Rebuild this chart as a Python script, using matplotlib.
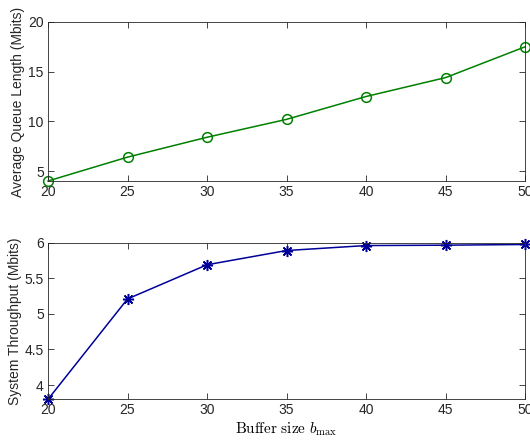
import matplotlib
matplotlib.use("Agg")
import matplotlib.pyplot as plt

# buffer sizes and measured values
buffer_size = [20, 25, 30, 35, 40, 45, 50]
queue_len = [4.0, 6.4, 8.4, 10.2, 12.5, 14.4, 17.5]
throughput = [3.8, 5.21, 5.69, 5.89, 5.96, 5.965, 5.975]

plt.rcParams['font.family'] = ['Liberation Sans', 'DejaVu Sans']
plt.rcParams['mathtext.fontset'] = 'cm'
plt.rcParams['font.size'] = 10

axcol = (0.15, 0.15, 0.15)

fig = plt.figure(figsize=(5.3, 4.45), dpi=100)
ax1 = fig.add_axes([0.0906, 0.5933, 0.9, 0.3573])
ax2 = fig.add_axes([0.0906, 0.1027, 0.9, 0.3519])

ax1.plot(buffer_size, queue_len, color=(0, 0.5, 0), marker='o', markersize=7,
         markerfacecolor='none', markeredgewidth=1.1, linewidth=1.1, clip_on=False)
ax1.set_ylim(4, 20)
ax1.set_yticks([5, 10, 15, 20])
ax1.set_ylabel("Average Queue Length (Mbits)", color=axcol, labelpad=2)

ax2.plot(buffer_size, throughput, color=(0, 0, 0.6), marker=(8, 2, 0), markersize=8,
         markeredgewidth=1.1, linewidth=1.1, clip_on=False)
ax2.set_ylim(3.8, 6)
ax2.set_yticks([4, 4.5, 5, 5.5, 6])
ax2.set_yticklabels(['4', '4.5', '5', '5.5', '6'])
ax2.set_ylabel("System Throughput (Mbits)", color=axcol, labelpad=2)
ax2.set_xlabel(r"$\mathrm{Buffer\ size}\ b_{\max}$", fontsize=11, labelpad=2)

for ax in (ax1, ax2):
    ax.set_xlim(20, 50)
    ax.set_xticks(buffer_size)
    ax.tick_params(direction='in', top=True, right=True, colors=axcol,
                   labelsize=10, length=4, width=0.6, pad=3)
    for s in ax.spines.values():
        s.set_color(axcol)
        s.set_linewidth(0.6)

fig.savefig("out.png", dpi=100)
